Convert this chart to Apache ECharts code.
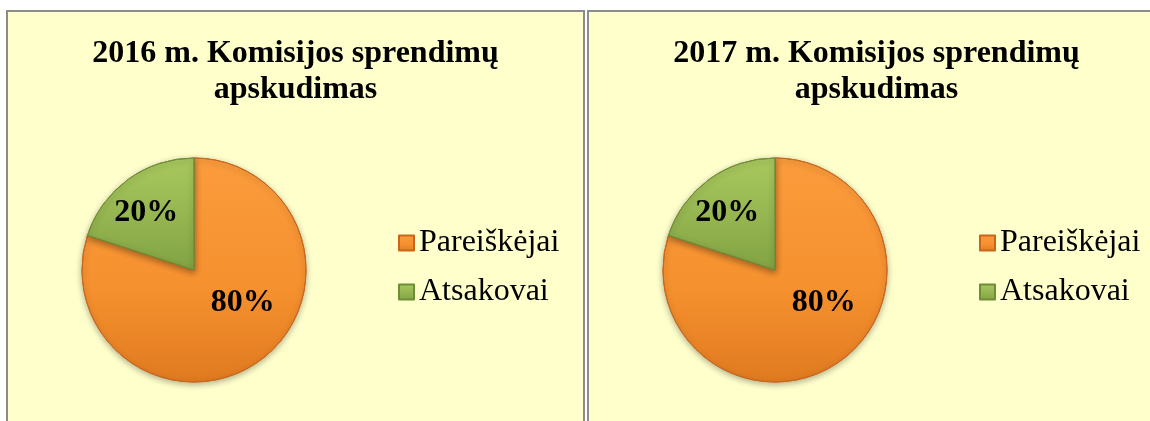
<!DOCTYPE html>
<html>
<head>
<meta charset="utf-8">
<script src="https://cdn.jsdelivr.net/npm/echarts@6/dist/echarts.min.js"></script>
<style>
    html, body { margin: 0; padding: 0; background: #fff; overflow: hidden; }
    body { width: 1150px; height: 421px; position: relative; }
    .panel {
        position: absolute;
        top: 10px;
        width: 575px;
        height: 430px;
        border: 2px solid #8c8c8c;
        background: #ffffcc;
    }
</style>
</head>
<body>
<div id="chart2016" class="panel" style="left:6px;"></div>
<div id="chart2017" class="panel" style="left:587px;"></div>
<script>
// duomenys
const categories = ['Pareiškėjai', 'Atsakovai'];
const titles = ['2016 m. Komisijos sprendimų\napskudimas', '2017 m. Komisijos sprendimų\napskudimas'];
const values2016 = [80, 20];
const values2017 = [80, 20];

const serif = '"Liberation Serif", "Times New Roman", serif';

let sliceColors = [
    new echarts.graphic.LinearGradient(0, 0, 0, 1, [
        {offset: 0, color: '#fb9c3c'},
        {offset: 0.6, color: '#f5902e'},
        {offset: 1, color: '#e07a20'}
    ]),
    new echarts.graphic.LinearGradient(0, 0, 0, 1, [
        {offset: 0, color: '#a9c95f'},
        {offset: 1, color: '#82a343'}
    ])
];
let sliceBorders = ['#c8661c', '#6f8c36'];
// Excel labels sit off the mid-radius point
let labelOffsets = [[14, -15], [-13, -10]];

function buildOption(title, values) {
    return {
        title: {
            text: title,
            left: 'center',
            top: 24,
            padding: 0,
            textStyle: {
                fontFamily: serif,
                fontSize: 32,
                fontWeight: 'bold',
                lineHeight: 36,
                color: '#000'
            }
        },
        legend: {
            orient: 'vertical',
            left: 390,
            top: 215,
            icon: 'rect',
            itemWidth: 15,
            itemHeight: 15,
            itemGap: 17,
            padding: 0,
            data: categories,
            textStyle: {
                fontFamily: serif,
                fontSize: 32,
                lineHeight: 32,
                color: '#000'
            }
        },
        series: [
            {
                name: title,
                type: 'pie',
                center: [186, 258],
                radius: 112,
                startAngle: 90,
                clockwise: true,
                silent: true,
                label: {
                    show: true,
                    position: 'inside',
                    formatter: '{d}%',
                    fontFamily: serif,
                    fontSize: 32,
                    fontWeight: 'bold',
                    color: '#000'
                },
                labelLine: {show: false},
                itemStyle: {
                    borderWidth: 1,
                    shadowBlur: 6,
                    shadowOffsetY: 2,
                    shadowColor: 'rgba(0, 0, 0, 0.3)'
                },
                data: categories.map(function (name, i) {
                    return {
                        name: name,
                        value: values[i],
                        itemStyle: {color: sliceColors[i], borderColor: sliceBorders[i]},
                        label: {offset: labelOffsets[i]}
                    };
                })
            }
        ]
    };
}

let chartA = echarts.init(document.getElementById('chart2016'));
chartA.setOption(buildOption(titles[0], values2016));
let chartB = echarts.init(document.getElementById('chart2017'));
chartB.setOption(buildOption(titles[1], values2017));

window.onresize = function () {
    chartA.resize();
    chartB.resize();
};
</script>
</body>
</html>
